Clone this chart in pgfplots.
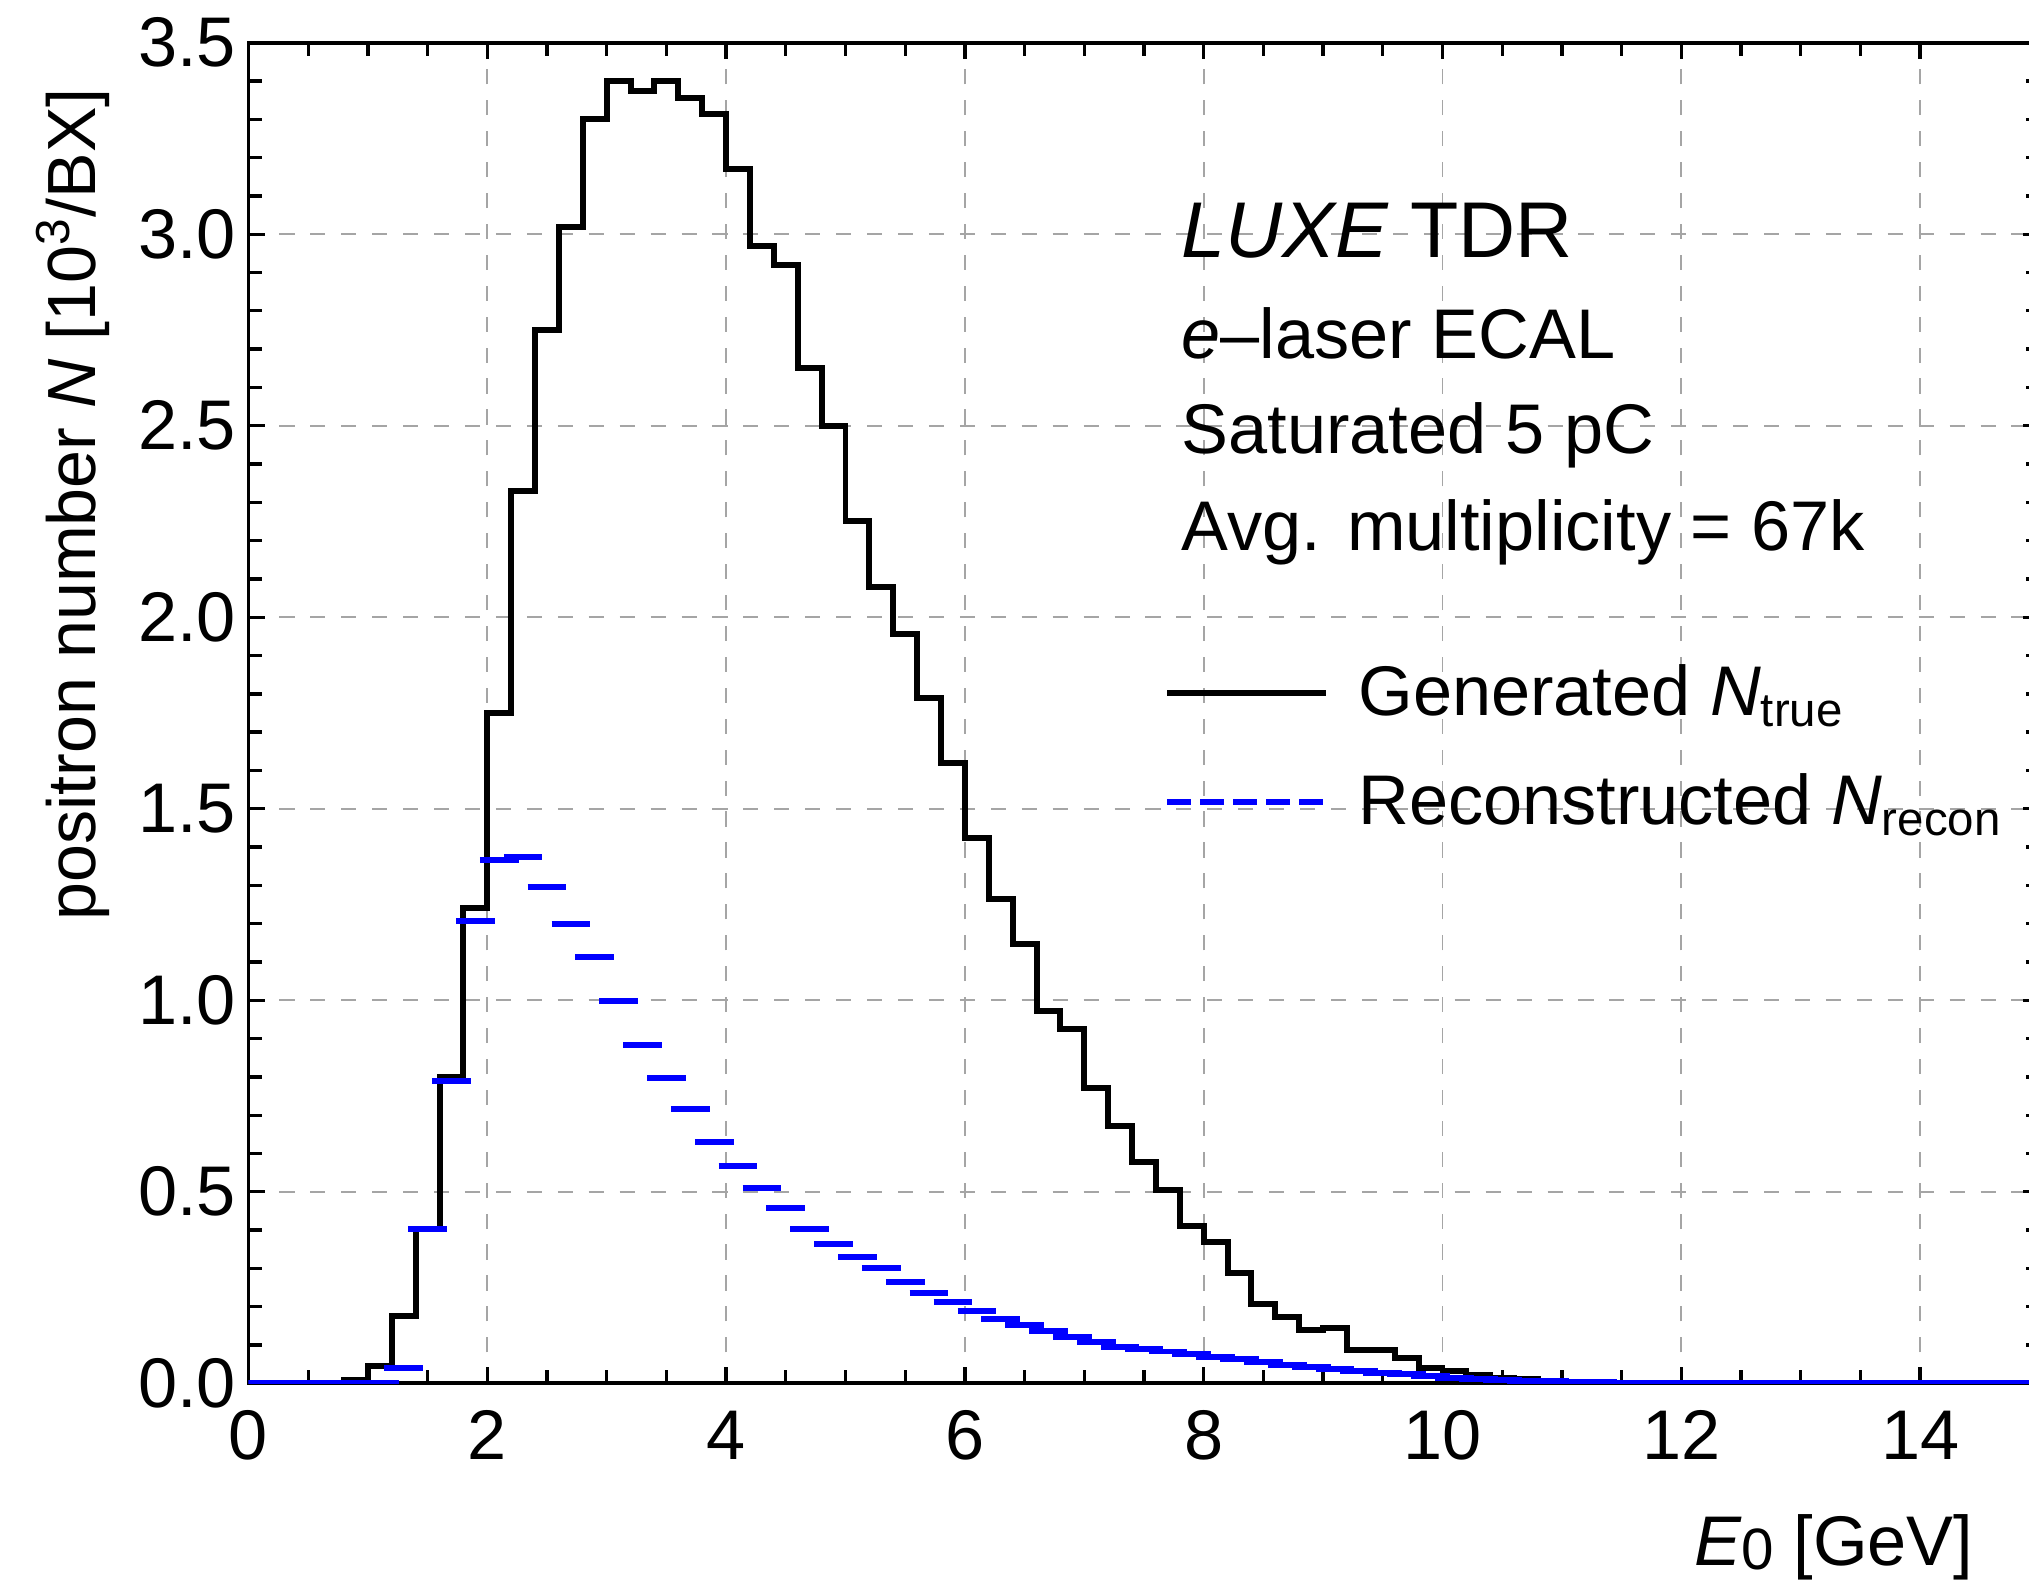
\documentclass[border=0pt]{standalone}
\usepackage{pgfplots}
\pgfplotsset{compat=1.18}
\usepackage{fontspec}
\setmainfont{Liberation Sans}
\definecolor{gridgray}{RGB}{165,165,165}
\definecolor{recblue}{RGB}{0,0,255}
\newcommand{\bigfont}{\fontsize{20}{24}\selectfont}
\begin{document}
\begin{tikzpicture}
\begin{axis}[
  scale only axis, width=179.1mm, height=134.06mm,
  xmin=0, xmax=15, ymin=0, ymax=3.5,
  xtick={0,2,4,6,8,10,12,14},
  ytick={0,0.5,1,1.5,2,2.5,3,3.5},
  minor x tick num=3, minor y tick num=4,
  tick align=inside,
  major tick length=1.65mm, minor tick length=1.35mm,
  tick style={black, line width=0.95pt},
  axis line style={line width=1.1pt},
  grid=major,
  major grid style={gridgray, line width=0.55pt, dash pattern=on 4.3pt off 4.5pt},
  /pgf/number format/assume math mode=true,
  ticklabel style={font=\bigfont},
  yticklabel style={/pgf/number format/fixed, /pgf/number format/fixed zerofill, /pgf/number format/precision=1, inner xsep=0pt, xshift=-1.2mm},
  xticklabel style={inner ysep=0pt, yshift=-2.67mm},
  xlabel={{\itshape E}{\fontsize{16.6}{18}\selectfont\raisebox{-0.4mm}{0}} [GeV]},
  xlabel style={at={(axis description cs:1,0)}, anchor=base east, xshift=-6.55mm, yshift=-18.2mm, inner sep=0pt, font=\bigfont},
  ylabel={positron number {\itshape N} [10\textsuperscript{3}/BX]},
  ylabel style={at={(axis description cs:0,1)}, anchor=base east, xshift=-4.5mm, yshift=15.25mm, inner sep=0pt, font=\fontsize{19.4}{23}\selectfont},
  legend cell align=left,
  legend style={draw=none, fill=none, at={(axis cs:7.67,1.66)}, anchor=west, inner sep=0pt, outer sep=0pt, row sep=5.3mm, font=\bigfont, nodes={inner sep=0pt}},
  legend image code/.code={\draw[#1] (0mm,0mm) -- (15.85mm,0mm); \path[draw=none] (0mm,0mm) -- (19.1mm,0mm);},
  clip=true,
]
% Generated N_true (bin left edges, width 0.2 GeV)
\addplot[const plot, black, line width=1.7pt, forget plot] coordinates {
(0.0,0) (0.2,0) (0.4,0) (0.6,0) (0.8,0.009) (1.0,0.044) (1.2,0.176) (1.4,0.402)
(1.6,0.800) (1.8,1.24) (2.0,1.75) (2.2,2.33) (2.4,2.75) (2.6,3.02) (2.8,3.30)
(3.0,3.40) (3.2,3.375) (3.4,3.40) (3.6,3.355) (3.8,3.315) (4.0,3.17) (4.2,2.97)
(4.4,2.92) (4.6,2.65) (4.8,2.50) (5.0,2.25) (5.2,2.08) (5.4,1.957) (5.6,1.79)
(5.8,1.62) (6.0,1.424) (6.2,1.264) (6.4,1.147) (6.6,0.972) (6.8,0.924) (7.0,0.770)
(7.2,0.671) (7.4,0.578) (7.6,0.504) (7.8,0.410) (8.0,0.370) (8.2,0.289) (8.4,0.207)
(8.6,0.174) (8.8,0.139) (9.0,0.144) (9.2,0.086) (9.4,0.086) (9.6,0.065) (9.8,0.039)
(10.0,0.031) (10.2,0.022) (10.4,0.015) (10.6,0.010) (10.8,0.007) (11.0,0.004)
(11.2,0.003) (11.4,0.002) (11.6,0.001) (11.8,0) (12.0,0) (12.2,0) (12.4,0) (12.6,0)
(12.8,0) (13.0,0) (13.2,0) (13.4,0) (13.6,0) (13.8,0) (14.0,0) (14.2,0) (14.4,0)
(14.6,0) (14.8,0) (15.0,0)
};
% Reconstructed N_recon (one segment per bin, centred on the bin)
\addplot[recblue, line width=1.7pt, unbounded coords=jump, forget plot] coordinates {
(-0.062,0) (0.262,0) (0.1,nan)
(0.138,0) (0.462,0) (0.3,nan)
(0.338,0) (0.662,0) (0.5,nan)
(0.538,0) (0.862,0) (0.7,nan)
(0.738,0) (1.062,0) (0.9,nan)
(0.938,0) (1.262,0) (1.1,nan)
(1.138,0.041) (1.462,0.041) (1.3,nan)
(1.338,0.404) (1.662,0.404) (1.5,nan)
(1.538,0.790) (1.862,0.790) (1.7,nan)
(1.738,1.206) (2.062,1.206) (1.9,nan)
(1.938,1.365) (2.262,1.365) (2.1,nan)
(2.138,1.375) (2.462,1.375) (2.3,nan)
(2.338,1.296) (2.662,1.296) (2.5,nan)
(2.538,1.200) (2.862,1.200) (2.7,nan)
(2.738,1.112) (3.062,1.112) (2.9,nan)
(2.938,0.997) (3.262,0.997) (3.1,nan)
(3.138,0.882) (3.462,0.882) (3.3,nan)
(3.338,0.798) (3.662,0.798) (3.5,nan)
(3.538,0.715) (3.862,0.715) (3.7,nan)
(3.738,0.630) (4.062,0.630) (3.9,nan)
(3.938,0.567) (4.262,0.567) (4.1,nan)
(4.138,0.509) (4.462,0.509) (4.3,nan)
(4.338,0.458) (4.662,0.458) (4.5,nan)
(4.538,0.403) (4.862,0.403) (4.7,nan)
(4.738,0.364) (5.062,0.364) (4.9,nan)
(4.938,0.330) (5.262,0.330) (5.1,nan)
(5.138,0.301) (5.462,0.301) (5.3,nan)
(5.338,0.265) (5.662,0.265) (5.5,nan)
(5.538,0.235) (5.862,0.235) (5.7,nan)
(5.738,0.212) (6.062,0.212) (5.9,nan)
(5.938,0.188) (6.262,0.188) (6.1,nan)
(6.138,0.168) (6.462,0.168) (6.3,nan)
(6.338,0.153) (6.662,0.153) (6.5,nan)
(6.538,0.137) (6.862,0.137) (6.7,nan)
(6.738,0.122) (7.062,0.122) (6.9,nan)
(6.938,0.109) (7.262,0.109) (7.1,nan)
(7.138,0.096) (7.462,0.096) (7.3,nan)
(7.338,0.089) (7.662,0.089) (7.5,nan)
(7.538,0.083) (7.862,0.083) (7.7,nan)
(7.738,0.076) (8.062,0.076) (7.9,nan)
(7.938,0.068) (8.262,0.068) (8.1,nan)
(8.138,0.063) (8.462,0.063) (8.3,nan)
(8.338,0.055) (8.662,0.055) (8.5,nan)
(8.538,0.048) (8.862,0.048) (8.7,nan)
(8.738,0.042) (9.062,0.042) (8.9,nan)
(8.938,0.037) (9.262,0.037) (9.1,nan)
(9.138,0.032) (9.462,0.032) (9.3,nan)
(9.338,0.028) (9.662,0.028) (9.5,nan)
(9.538,0.024) (9.862,0.024) (9.7,nan)
(9.738,0.019) (10.062,0.019) (9.9,nan)
(9.938,0.015) (10.262,0.015) (10.1,nan)
(10.138,0.010) (10.462,0.010) (10.3,nan)
(10.338,0.008) (10.662,0.008) (10.5,nan)
(10.538,0.006) (10.862,0.006) (10.7,nan)
(10.738,0.005) (11.062,0.005) (10.9,nan)
(10.938,0.004) (11.262,0.004) (11.1,nan)
(11.138,0.003) (11.462,0.003) (11.3,nan)
(11.338,0.002) (11.662,0.002) (11.5,nan)
(11.538,0.002) (11.862,0.002) (11.7,nan)
(11.738,0.001) (12.062,0.001) (11.9,nan)
(11.938,0.001) (12.262,0.001) (12.1,nan)
(12.138,0.001) (12.462,0.001) (12.3,nan)
(12.338,0.001) (12.662,0.001) (12.5,nan)
(12.538,0.001) (12.862,0.001) (12.7,nan)
(12.738,0.001) (13.062,0.001) (12.9,nan)
(12.938,0.001) (13.262,0.001) (13.1,nan)
(13.138,0.001) (13.462,0.001) (13.3,nan)
(13.338,0.001) (13.662,0.001) (13.5,nan)
(13.538,0.001) (13.862,0.001) (13.7,nan)
(13.738,0.001) (14.062,0.001) (13.9,nan)
(13.938,0.001) (14.262,0.001) (14.1,nan)
(14.138,0.001) (14.462,0.001) (14.3,nan)
(14.338,0.001) (14.662,0.001) (14.5,nan)
(14.538,0.001) (14.862,0.001) (14.7,nan)
(14.738,0.001) (15.062,0.001) (14.9,nan)
};
\addlegendimage{black, line width=1.7pt}
\addlegendentry{Generated {\itshape N}{\fontsize{13.5}{15}\selectfont\raisebox{-1.1mm}{true}}}
\addlegendimage{recblue, line width=1.8pt, dash pattern=on 2.35mm off 0.95mm}
\addlegendentry{Reconstructed {\itshape N}{\fontsize{13.5}{15}\selectfont\raisebox{-1.1mm}{recon}}}
\node[anchor=base west, inner sep=0pt, font=\fontsize{22.5}{26}\selectfont] at (axis cs:7.81,2.938) {{\itshape LUXE} TDR};
\node[anchor=base west, inner sep=0pt, font=\bigfont] at (axis cs:7.81,2.675) {{\itshape e}--laser ECAL};
\node[anchor=base west, inner sep=0pt, font=\bigfont] at (axis cs:7.81,2.428) {Saturated 5 pC};
\node[anchor=base west, inner sep=0pt, font=\bigfont] at (axis cs:7.81,2.174) {Avg. multiplicity = 67k};
\end{axis}
\pgfresetboundingbox
\useasboundingbox ([xshift=-24.85mm,yshift=-20.17mm]current axis.south west) rectangle ([xshift=178.05mm,yshift=4.27mm]current axis.north west);
\end{tikzpicture}
\end{document}
